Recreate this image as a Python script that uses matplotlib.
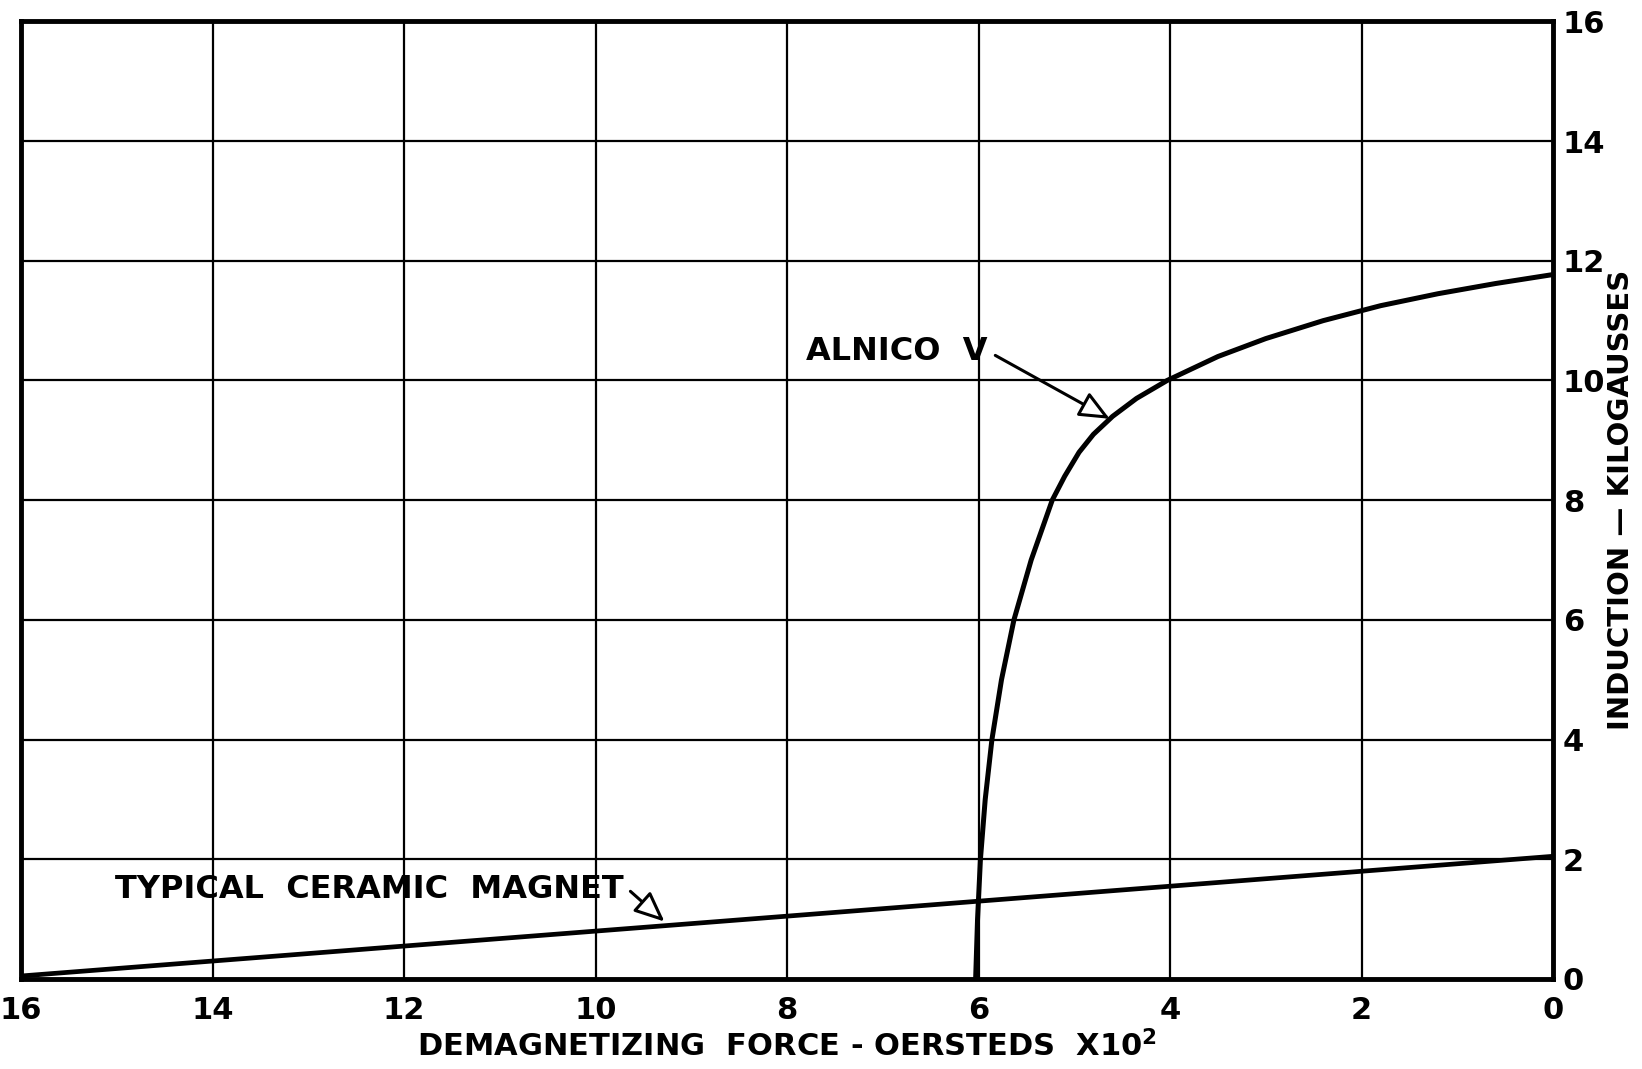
import matplotlib
matplotlib.use('Agg')
from matplotlib import pyplot as plt

# demagnetization curves, H in oersteds x 10^2, B in kilogauss
alnico_h = [6.03, 6.01, 5.98, 5.93, 5.86, 5.76, 5.63, 5.45, 5.23, 5.10, 4.95,
            4.80, 4.60, 4.35, 4.03, 3.50, 3.00, 2.40, 1.80, 1.20, 0.60, 0.00]
alnico_b = [0.0, 1.0, 2.0, 3.0, 4.0, 5.0, 6.0, 7.0, 8.0, 8.4, 8.8,
            9.1, 9.4, 9.7, 10.0, 10.4, 10.7, 11.0, 11.25, 11.45, 11.62, 11.77]

ceramic_h = [16.0, 0.0]
ceramic_b = [0.05, 2.05]

x_ticks = [16, 14, 12, 10, 8, 6, 4, 2, 0]
y_ticks = [0, 2, 4, 6, 8, 10, 12, 14, 16]

plt.rcParams['font.family'] = ['DejaVu Sans']
plt.rcParams['font.weight'] = 'bold'
plt.rcParams['mathtext.default'] = 'bf'


def draw_chart():
    fig = plt.figure(figsize=(16.42, 10.69), dpi=100)
    ax = fig.add_axes([0.0128, 0.0842, 0.9330, 0.8958])

    ax.plot(alnico_h, alnico_b, color='black', lw=3.6, solid_capstyle='butt',
            solid_joinstyle='round')
    ax.plot(ceramic_h, ceramic_b, color='black', lw=3.4)

    ax.set_xlim(16, 0)
    ax.set_ylim(0, 16)
    ax.set_xticks(x_ticks)
    ax.set_yticks(y_ticks)
    ax.grid(True, color='black', lw=1.6)
    ax.set_axisbelow(True)
    for s in ax.spines.values():
        s.set_linewidth(3.5)

    ax.yaxis.tick_right()
    ax.yaxis.set_label_position('right')
    ax.tick_params(axis='both', length=0, labelsize=22)
    ax.tick_params(axis='x', pad=12)
    ax.tick_params(axis='y', pad=7)

    ax.set_xlabel('DEMAGNETIZING  FORCE - OERSTEDS  X10$^2$',
                  fontsize=22, fontweight='bold', labelpad=4)
    ax.set_ylabel('INDUCTION \u2014 KILOGAUSSES', fontsize=21,
                  fontweight='bold', rotation=90, labelpad=1)

    arrow = dict(arrowstyle='-|>,head_length=0.8,head_width=0.35',
                 fc='white', ec='black', lw=2.2, shrinkA=4, shrinkB=0)
    ax.annotate('ALNICO  \u2164', xy=(4.63, 9.36), xytext=(7.8, 10.49),
                fontsize=23, fontweight='bold', va='center', ha='left',
                arrowprops=dict(arrow, relpos=(1.0, 0.5)))
    ax.annotate('TYPICAL  CERAMIC  MAGNET', xy=(9.28, 0.96),
                xytext=(15.02, 1.49), fontsize=23, fontweight='bold',
                va='center', ha='left',
                arrowprops=dict(arrow, relpos=(1.0, 0.65)))

    fig.savefig('out.png', dpi=100)


if __name__ == '__main__':
    draw_chart()
